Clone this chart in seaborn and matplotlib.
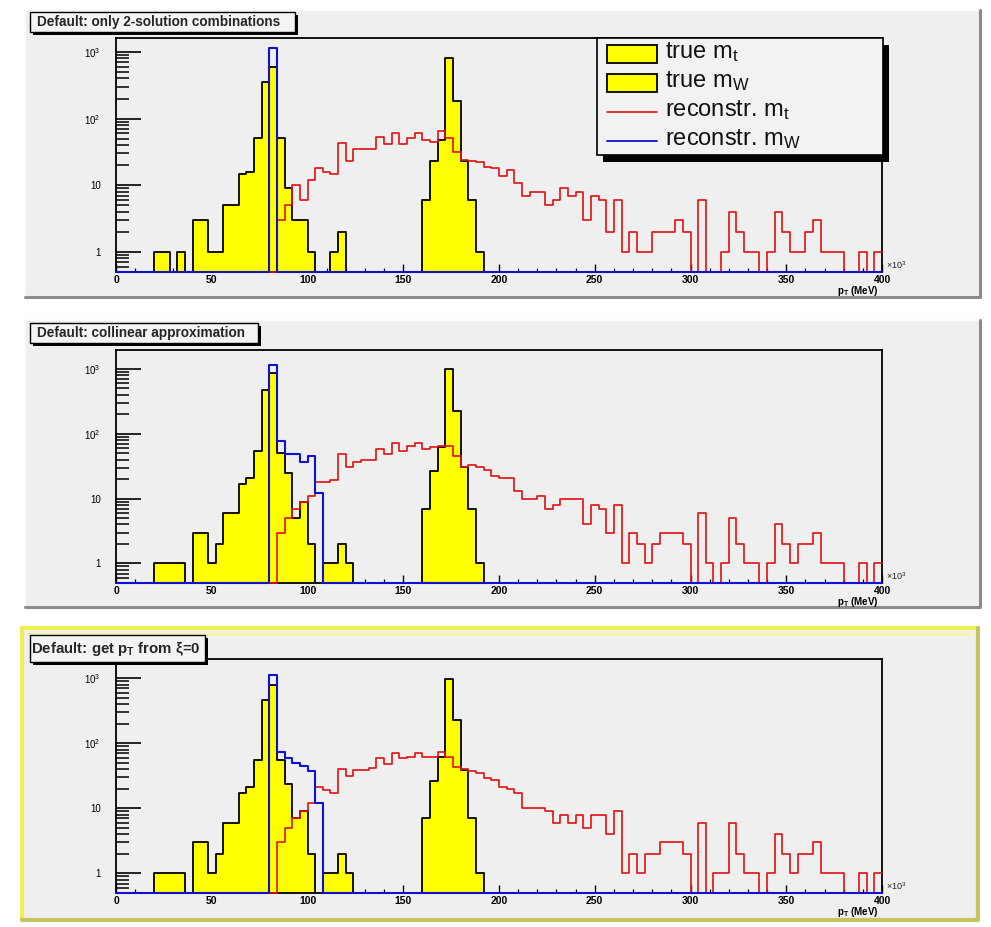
import numpy as np
import pandas as pd
import matplotlib
matplotlib.use("Agg")
import matplotlib.pyplot as plt
import seaborn as sns
from matplotlib.patches import Rectangle
from matplotlib.lines import Line2D
from matplotlib.ticker import MultipleLocator, LogLocator, NullFormatter, FixedLocator, FixedFormatter

# ---------------- data (bin contents, 4 GeV bins from 0 to 400 x10^3 MeV) ----------------
BIN_WIDTH = 4
BIN_RANGE = (0, 400)
BIN_CENTERS = np.arange(2, 400, 4)

X_TICKS = [0, 50, 100, 150, 200, 250, 300, 350, 400]
Y_TICKS = [1, 10, 100, 1000]
Y_TICK_LABELS = ["1", "10", "$10^{2}$", "$10^{3}$"]

TITLES = ["Default: only 2-solution combinations",
          "Default: collinear approximation",
          "Default: get p$_{T}$ from \u03be=0"]
LEGEND_LABELS = ["true m$_{t}$", "true m$_{W}$", "reconstr. m$_{t}$", "reconstr. m$_{W}$"]

# start edge of each series (MeV x10^3)
TRUE_MW_START = 20
TRUE_MT_START = 160
RECO_MW_START = 80
RECO_MT_START = 84

# panel 1
P1_TRUE_MW = [1, 1, 0, 1, 0, 3, 3, 1, 1, 5, 5, 15, 16, 51, 355, 590, 51, 9, 3, 3, 1, 0, 0, 1, 2]
P1_TRUE_MT = [6, 23, 48, 813, 186, 23, 6, 1]
P1_RECO_MW = [1150]
P1_RECO_MT = [3, 5, 10, 6, 12, 18, 16, 15, 43, 23,
              35, 35, 35, 53, 41, 60, 42, 51, 60, 48,
              45, 65, 51, 32, 24, 23, 22, 19, 18, 14,
              17, 11, 7, 8, 8, 5, 6, 9, 7, 8,
              3, 7, 6, 2, 6, 1, 2, 1, 1, 2,
              2, 2, 3, 2, 0, 6, 0, 0, 1, 4,
              2, 1, 1, 0, 1, 4, 2, 1, 1, 2,
              3, 1, 1, 1, 0, 0, 1, 0, 1]

# panel 2
P2_TRUE_MW = [1, 1, 1, 1, 0, 3, 3, 1, 2, 6, 6, 17, 21, 55, 465, 855, 50, 25, 5, 9, 2, 0, 1, 1, 2, 1]
P2_TRUE_MT = [7, 27, 62, 990, 220, 31, 7, 1]
P2_RECO_MW = [1130, 78, 48, 48, 36, 45, 12]
P2_RECO_MT = [3, 5, 7, 9, 11, 18, 18, 19, 48, 31,
              37, 40, 40, 58, 48, 72, 55, 64, 72, 58,
              62, 65, 65, 45, 31, 33, 31, 28, 22, 21,
              21, 13, 10, 10, 11, 7, 8, 10, 10, 10,
              4, 8, 7, 3, 8, 1, 3, 2, 1, 2,
              3, 3, 3, 2, 0, 6, 1, 0, 1, 5,
              2, 1, 1, 0, 1, 4, 2, 1, 2, 2,
              3, 1, 1, 1, 0, 0, 1, 0, 1]

# panel 3
P3_TRUE_MW = [1, 1, 1, 1, 0, 3, 3, 1, 2, 6, 6, 17, 21, 55, 465, 790, 55, 24, 7, 9, 2, 0, 1, 1, 2, 1]
P3_TRUE_MT = [7, 26, 62, 965, 228, 39, 7, 1]
P3_RECO_MW = [1120, 75, 60, 50, 45, 37, 12]
P3_RECO_MT = [3, 5, 7, 9, 12, 21, 19, 17, 41, 32,
              39, 39, 42, 59, 49, 70, 59, 62, 70, 62,
              62, 75, 62, 44, 41, 37, 35, 29, 27, 21,
              20, 17, 10, 10, 10, 9, 6, 8, 6, 8,
              5, 8, 8, 4, 9, 1, 2, 1, 2, 2,
              3, 3, 3, 2, 0, 6, 0, 1, 1, 6,
              2, 1, 1, 0, 1, 4, 2, 1, 2, 2,
              3, 1, 1, 1, 0, 0, 1, 0, 1]

Y_MIN = 0.5
Y_MAX = [1620, 1950, 1990]

# ---------------- style ----------------
W, H = 991, 927
sns.set_theme(style="white")
plt.rcParams["font.family"] = ["Liberation Sans", "DejaVu Sans"]
plt.rcParams["mathtext.default"] = "regular"

YELLOW = "#ffff00"
RED = "#e01010"
BLUE = "#1010d0"
PAD_BG = "#efefef"

fig = plt.figure(figsize=(W / 100, H / 100), dpi=100, facecolor="white")


def fx(px):
    return px / W


def fy(py):
    return 1 - py / H


def rect_px(x0, y0, x1, y1, **kw):
    r = Rectangle((fx(x0), fy(y1)), (x1 - x0) / W, (y1 - y0) / H,
                  transform=fig.transFigure, **kw)
    fig.add_artist(r)
    return r


def line_px(xs, ys, **kw):
    ln = Line2D([fx(x) for x in xs], [fy(y) for y in ys], transform=fig.transFigure, **kw)
    fig.add_artist(ln)
    return ln


def series_frame(start, vals, floor=None):
    arr = np.zeros(len(BIN_CENTERS))
    i0 = start // BIN_WIDTH
    arr[i0:i0 + len(vals)] = vals
    if floor is not None:
        arr = np.clip(arr, floor, None)  # ROOT draws empty bins at the axis minimum
    return pd.DataFrame({"pT": BIN_CENTERS, "w": arr})


# pads
PADS = [(25, 10, 980, 297), (25, 320, 980, 607), (22, 628, 978, 920)]
for k, (x0, y0, x1, y1) in enumerate(PADS):
    rect_px(x0, y0, x1, y1, facecolor=PAD_BG, edgecolor="none", zorder=-10)
    if k < 2:
        line_px([x0, x0, x1], [y1, y0, y0], color="#fbfbfb", lw=1.5, zorder=-9)
        line_px([x0, x1, x1], [y1, y1, y0], color="#8c8c8c", lw=2.2, zorder=-9)
    else:
        line_px([x0, x0, x1], [y1, y0, y0], color="#f0f050", lw=3.0, zorder=-9)
        line_px([x0 + 6, x1 - 6], [y0 + 6, y0 + 6], color="#f6f6a0", lw=2.0, zorder=-9)
        line_px([x0, x1, x1], [y1, y1, y0], color="#c4c460", lw=3.0, zorder=-9)

AXES_PX = [(116, 38, 882, 272), (116, 350, 882, 583), (116, 659, 882, 893)]
PANELS = [
    (P1_TRUE_MT, P1_TRUE_MW, P1_RECO_MT, P1_RECO_MW),
    (P2_TRUE_MT, P2_TRUE_MW, P2_RECO_MT, P2_RECO_MW),
    (P3_TRUE_MT, P3_TRUE_MW, P3_RECO_MT, P3_RECO_MW),
]

for k, ((x0, y0, x1, y1), (tmt, tmw, rmt, rmw)) in enumerate(zip(AXES_PX, PANELS)):
    ax = fig.add_axes([fx(x0), fy(y1), (x1 - x0) / W, (y1 - y0) / H])
    ax.set_facecolor(PAD_BG)
    ax.set_yscale("log")

    common = dict(x="pT", weights="w", binwidth=BIN_WIDTH, binrange=BIN_RANGE,
                  element="step", ax=ax, stat="count")
    sns.histplot(data=series_frame(TRUE_MT_START, tmt), fill=True, color=YELLOW, alpha=1,
                 edgecolor="black", linewidth=1.3, zorder=2, **common)
    sns.histplot(data=series_frame(TRUE_MW_START, tmw), fill=True, color=YELLOW, alpha=1,
                 edgecolor="black", linewidth=1.3, zorder=2, **common)
    sns.histplot(data=series_frame(RECO_MT_START, rmt, Y_MIN), fill=False,
                 color=RED, linewidth=1.2, zorder=3, clip_on=False, **common)
    sns.histplot(data=series_frame(RECO_MW_START, rmw, Y_MIN), fill=False,
                 color=BLUE, linewidth=1.5, zorder=3.5, clip_on=False, **common)

    ax.set_xlim(0, 400)
    ax.set_ylim(Y_MIN, Y_MAX[k])
    ax.set_xlabel("")
    ax.set_ylabel("")

    ax.xaxis.set_major_locator(FixedLocator(X_TICKS))
    ax.xaxis.set_major_formatter(FixedFormatter([str(v) for v in X_TICKS]))
    ax.xaxis.set_minor_locator(MultipleLocator(10))
    ax.yaxis.set_major_locator(FixedLocator(Y_TICKS))
    ax.yaxis.set_major_formatter(FixedFormatter(Y_TICK_LABELS))
    ax.yaxis.set_minor_locator(LogLocator(base=10, subs=np.arange(2, 10), numticks=30))
    ax.yaxis.set_minor_formatter(NullFormatter())

    ax.tick_params(axis="x", which="major", direction="in", length=6, width=1.0,
                   colors="black", labelsize=7.5, pad=2, bottom=True, top=False)
    ax.tick_params(axis="x", which="minor", direction="in", length=3, width=0.9,
                   colors="black", bottom=True, top=False)
    ax.tick_params(axis="y", which="major", direction="in", length=18, width=1.2,
                   colors="black", labelsize=7, pad=11, left=True, right=False)
    ax.tick_params(axis="y", which="minor", direction="in", length=9, width=1.1,
                   colors="black", left=True, right=False)
    for t in ax.get_xticklabels():
        t.set_fontweight("bold")
    for s in ax.spines.values():
        s.set_color("black")
        s.set_linewidth(1.3)
        s.set_visible(True)
    ax.grid(False)

    # axis decorations
    fig.text(fx(886), fy(y1 - 7), r"$\times10^{3}$", fontsize=6.5, ha="left", va="center",
             color="#222222")
    fig.text(fx(878), fy(y1 + 19), "p$_{T}$ (MeV)", fontsize=7, fontweight="bold",
             ha="right", va="center", color="black")

# title boxes
TITLE_BOXES = [(30, 12, 295, 32, 37, 9.8), (30, 323, 258, 343, 37, 9.8),
               (30, 635, 205, 662, 31, 10.8)]
for (bx0, by0, bx1, by1, tx, fs), title in zip(TITLE_BOXES, TITLES):
    rect_px(bx0 + 3, by0 + 3, bx1 + 3, by1 + 3, facecolor="black", edgecolor="none", zorder=8)
    rect_px(bx0, by0, bx1, by1, facecolor="#f4f4f4", edgecolor="black", lw=1.0, zorder=9)
    fig.text(fx(tx), fy((by0 + by1) / 2), title, fontsize=fs, fontweight="bold",
             ha="left", va="center", zorder=10)

# legend (panel 1)
rect_px(603, 45, 889, 162, facecolor="black", edgecolor="none", zorder=8)
rect_px(597, 38, 883, 155, facecolor="#f2f2f2", edgecolor="black", lw=1.2, zorder=9)
rect_px(607, 45, 657, 63, facecolor=YELLOW, edgecolor="black", lw=1.3, zorder=10)
rect_px(607, 74, 657, 92, facecolor=YELLOW, edgecolor="black", lw=1.3, zorder=10)
line_px([607, 657], [112, 112], color=RED, lw=1.2, zorder=10)
line_px([607, 657], [141, 141], color=BLUE, lw=1.3, zorder=10)
for lab, yc in zip(LEGEND_LABELS, [52, 81, 110, 139]):
    fig.text(fx(665), fy(yc), lab, fontsize=17, ha="left", va="center", zorder=11,
             color="#111111")

fig.savefig("out.png", dpi=100, facecolor="white")
